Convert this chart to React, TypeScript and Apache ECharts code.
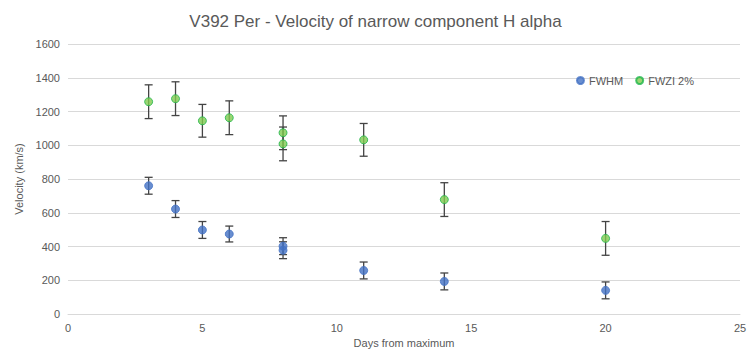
import React, { useEffect, useRef } from "react";
import * as echarts from "echarts";

const fwhmDays = [3, 4, 5, 6, 8, 8, 11, 14, 20];
const fwhmVel = [760, 622, 498, 474, 402, 378, 258, 193, 140];
const fwhmErr = [50, 50, 50, 47, 50, 50, 50, 50, 50];

const fwziDays = [3, 4, 5, 6, 8, 8, 11, 14, 20];
const fwziVel = [1258, 1276, 1145, 1163, 1074, 1008, 1032, 678, 448];
const fwziErr = [100, 100, 97, 100, 100, 100, 97, 100, 100];

const titleText = "V392 Per - Velocity of narrow component H alpha";
const xName = "Days from maximum";
const yName = "Velocity (km/s)";

const FONT = "'Liberation Sans', Arial, sans-serif";
const TXT = "#595959";

function errData(days: number[], vals: number[], errs: number[]) {
  return days.map((d, i) => [d, vals[i] - errs[i], vals[i] + errs[i]]);
}

function errorRender(params: any, api: any) {
  const x = api.value(0);
  const lo = api.coord([x, api.value(1)]);
  const hi = api.coord([x, api.value(2)]);
  const hw = 4;
  const style = { stroke: "#444444", lineWidth: 1.3, fill: "none" };
  return {
    type: "group",
    children: [
      { type: "line", shape: { x1: lo[0], y1: lo[1], x2: hi[0], y2: hi[1] }, style },
      { type: "line", shape: { x1: lo[0] - hw, y1: lo[1], x2: lo[0] + hw, y2: lo[1] }, style },
      { type: "line", shape: { x1: hi[0] - hw, y1: hi[1], x2: hi[0] + hw, y2: hi[1] }, style },
    ],
  };
}

export default function App() {
  const ref = useRef<HTMLDivElement>(null);
  useEffect(() => {
    if (!ref.current) return;
    const chart = echarts.init(ref.current, undefined, { renderer: "svg" });
    chart.setOption({
      animation: false,
      backgroundColor: "#ffffff",
      title: {
        text: titleText,
        left: "center",
        top: 8,
        textStyle: { fontFamily: FONT, fontSize: 17, fontWeight: "normal", color: TXT },
      },
      legend: {
        data: ["FWHM", "FWZI 2%"],
        right: 52,
        top: 70,
        icon: "circle",
        itemWidth: 7,
        itemHeight: 7,
        itemGap: 12,
        textStyle: { fontFamily: FONT, fontSize: 11, color: TXT },
      },
      grid: { left: 68, right: 11, top: 44, bottom: 48 },
      xAxis: {
        type: "value",
        min: 0,
        max: 25,
        interval: 5,
        name: xName,
        nameLocation: "middle",
        nameGap: 22,
        nameTextStyle: { fontFamily: FONT, fontSize: 11, color: TXT },
        axisLine: { show: true, lineStyle: { color: "#d9d9d9" } },
        axisTick: { show: false },
        splitLine: { show: false },
        axisLabel: { fontFamily: FONT, fontSize: 11, color: TXT, margin: 8, hideOverlap: false },
      },
      yAxis: {
        type: "value",
        min: 0,
        max: 1600,
        interval: 200,
        name: yName,
        nameLocation: "middle",
        nameGap: 43,
        nameTextStyle: { fontFamily: FONT, fontSize: 11, color: TXT },
        axisLine: { show: false },
        axisTick: { show: false },
        splitLine: { show: true, lineStyle: { color: "#d9d9d9", width: 1 } },
        axisLabel: {
          fontFamily: FONT,
          fontSize: 11,
          color: TXT,
          margin: 8,
          formatter: (v: number) => String(v),
        },
      },
      series: [
        {
          name: "FWHM err",
          type: "custom",
          renderItem: errorRender,
          data: errData(fwhmDays, fwhmVel, fwhmErr),
          encode: { x: 0, y: [1, 2] },
          z: 1,
          silent: true,
        },
        {
          name: "FWZI err",
          type: "custom",
          renderItem: errorRender,
          data: errData(fwziDays, fwziVel, fwziErr),
          encode: { x: 0, y: [1, 2] },
          z: 1,
          silent: true,
        },
        {
          name: "FWHM",
          type: "scatter",
          symbol: "circle",
          symbolSize: 8,
          itemStyle: { color: "#4472C4", borderColor: "#4472C4", borderWidth: 1 },
          data: fwhmDays.map((d, i) => [d, fwhmVel[i]]),
          z: 3,
        },
        {
          name: "FWZI 2%",
          type: "scatter",
          symbol: "circle",
          symbolSize: 8,
          itemStyle: { color: "#7FCB4F", borderColor: "#1DB54A", borderWidth: 1 },
          data: fwziDays.map((d, i) => [d, fwziVel[i]]),
          z: 3,
        },
      ],
    });
    return () => chart.dispose();
  }, []);
  return (
    <div
      ref={ref}
      style={{ width: 751, height: 362, position: "fixed", left: 0, top: 0 }}
    />
  );
}
